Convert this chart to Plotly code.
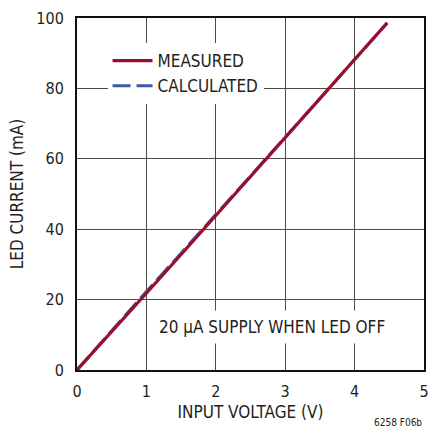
import plotly.graph_objects as go

# Measured and calculated LED current versus input voltage
voltage = [0.0, 0.5, 1.0, 1.5, 2.0, 2.5, 3.0, 3.5, 4.0, 4.47]
measured_ma = [0.0, 10.8, 21.8, 32.8, 43.8, 54.9, 66.0, 77.1, 88.2, 98.6]
calculated_ma = [0.0, 11.3, 22.3, 33.2, 44.1, 55.1, 66.1, 77.1, 88.2, 98.6]

x_ticks = [0, 1, 2, 3, 4, 5]
y_ticks = [0, 20, 40, 60, 80, 100]

FONT = "DejaVu Sans Condensed"
INK = "#231f20"

fig = go.Figure()
# calculated curve underneath, measured curve drawn over it
fig.add_trace(go.Scatter(
    x=voltage, y=calculated_ma, name="CALCULATED", mode="lines",
    line=dict(color="#3f5aa8", width=3, dash="18px,6px"),
    legendrank=2,
))
fig.add_trace(go.Scatter(
    x=voltage, y=measured_ma, name="MEASURED", mode="lines",
    line=dict(color="#990f2f", width=3.2),
    legendrank=1,
))

axis_common = dict(
    showgrid=True, gridcolor="#4a4a4a", gridwidth=1,
    showline=True, linecolor="#111111", linewidth=2, mirror=True,
    ticks="", zeroline=False,
    tickfont=dict(family=FONT, size=16, color=INK),
    title_font=dict(family=FONT, size=17, color=INK),
)

fig.update_xaxes(
    range=[0, 5], tickvals=x_ticks, ticklabelstandoff=6,
    title_text="INPUT VOLTAGE (V)", title_standoff=6, **axis_common,
)
fig.update_yaxes(
    range=[0, 100], tickvals=y_ticks, ticklabelstandoff=8,
    title_text="LED CURRENT (mA)", title_standoff=8, **axis_common,
)

fig.add_annotation(
    x=0.562, y=0.122, xref="paper", yref="paper",
    xanchor="center", yanchor="middle",
    text="20 µA SUPPLY WHEN LED OFF", showarrow=False,
    font=dict(family=FONT, size=17, color=INK),
    bgcolor="white", borderpad=6,
)
fig.add_annotation(
    x=1.0, y=-0.17, xref="paper", yref="paper", xanchor="right",
    text="6258 F06b", showarrow=False,
    font=dict(family=FONT, size=10, color=INK),
)

fig.update_layout(
    width=432, height=438,
    margin=dict(l=77, r=3, t=18, b=68),
    paper_bgcolor="white", plot_bgcolor="white",
    legend=dict(
        x=0.088, y=0.929, xanchor="left", yanchor="top",
        bgcolor="white", borderwidth=0,
        font=dict(family=FONT, size=17, color=INK),
        tracegroupgap=0, itemwidth=40,
    ),
)

fig.write_html("out.html")
